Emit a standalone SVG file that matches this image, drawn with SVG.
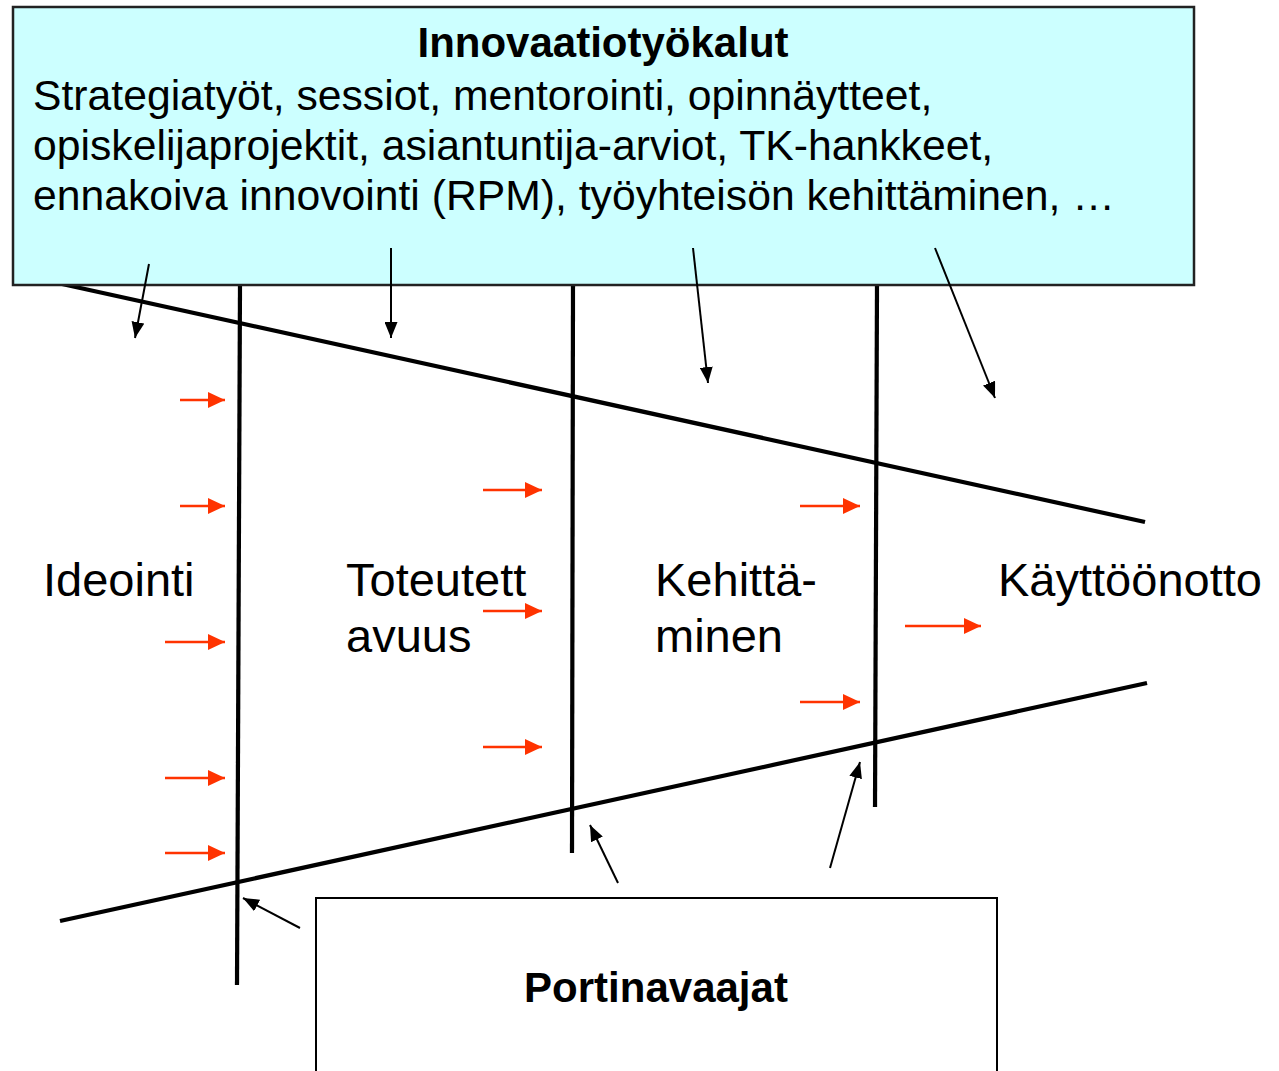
<svg xmlns="http://www.w3.org/2000/svg" width="1279" height="1071" viewBox="0 0 1279 1071">
<style>
.t{font-family:"Liberation Sans",Arial,sans-serif;fill:#000}
.b{font-weight:bold}
.frame{stroke:#000;stroke-width:4.2;fill:none;stroke-linecap:butt}
.blk{stroke:#000;stroke-width:2;fill:none}
.red{stroke:#FF3300;stroke-width:2.5;fill:none}
</style>
<defs>
<marker id="ah" markerUnits="userSpaceOnUse" markerWidth="16" markerHeight="13" refX="16" refY="6.5" orient="auto">
<path d="M0,0 L16,6.5 L0,13 z" fill="#000"/>
</marker>
<marker id="rh" markerUnits="userSpaceOnUse" markerWidth="17" markerHeight="16" refX="17" refY="8" orient="auto">
<path d="M0,0 L17,8 L0,16 z" fill="#FF3300"/>
</marker>
</defs>
<rect width="1279" height="1071" fill="#fff"/>
<g id="connectors">
<line class="frame" x1="62" y1="284" x2="1145" y2="522"/>
<line class="frame" x1="60" y1="921" x2="1147" y2="683"/>
<line class="frame" x1="240" y1="285" x2="237" y2="985"/>
<line class="frame" x1="573" y1="285" x2="572" y2="853"/>
<line class="frame" x1="877" y1="285" x2="875" y2="807"/>
<line class="red" x1="180" y1="400" x2="225" y2="400" marker-end="url(#rh)"/>
<line class="red" x1="180" y1="506" x2="225" y2="506" marker-end="url(#rh)"/>
<line class="red" x1="165" y1="642" x2="225" y2="642" marker-end="url(#rh)"/>
<line class="red" x1="165" y1="778" x2="225" y2="778" marker-end="url(#rh)"/>
<line class="red" x1="165" y1="853" x2="225" y2="853" marker-end="url(#rh)"/>
<line class="red" x1="483" y1="490" x2="542" y2="490" marker-end="url(#rh)"/>
<line class="red" x1="483" y1="611" x2="542" y2="611" marker-end="url(#rh)"/>
<line class="red" x1="483" y1="747" x2="542" y2="747" marker-end="url(#rh)"/>
<line class="red" x1="800" y1="506" x2="860" y2="506" marker-end="url(#rh)"/>
<line class="red" x1="800" y1="702" x2="860" y2="702" marker-end="url(#rh)"/>
<line class="red" x1="905" y1="626" x2="981" y2="626" marker-end="url(#rh)"/>
<line class="blk" x1="300" y1="928" x2="243" y2="898" marker-end="url(#ah)"/>
<line class="blk" x1="618" y1="883" x2="590" y2="825" marker-end="url(#ah)"/>
<line class="blk" x1="830" y1="868" x2="860" y2="762" marker-end="url(#ah)"/>
</g>
<g id="innovaatiotyokalut">
<rect x="13" y="7" width="1181" height="278" fill="#CCFFFF" stroke="#222" stroke-width="2.5"/>
<text class="t b" x="603" y="57" font-size="42" text-anchor="middle">Innovaatiotyökalut</text>
<text class="t" x="33" y="110" font-size="42.7">Strategiatyöt, sessiot, mentorointi, opinnäytteet,</text>
<text class="t" x="33" y="160" font-size="42.7">opiskelijaprojektit, asiantuntija-arviot, TK-hankkeet,</text>
<text class="t" x="33" y="210" font-size="42.7">ennakoiva innovointi (RPM), työyhteisön kehittäminen, …</text>
</g>
<g id="tool-arrows">
<line class="blk" x1="149" y1="264" x2="135" y2="338" marker-end="url(#ah)"/>
<line class="blk" x1="391" y1="248" x2="391" y2="338" marker-end="url(#ah)"/>
<line class="blk" x1="693" y1="248" x2="708" y2="383" marker-end="url(#ah)"/>
<line class="blk" x1="935" y1="248" x2="995" y2="398" marker-end="url(#ah)"/>
</g>
<g id="ideointi"><text class="t" x="43" y="596" font-size="47">Ideointi</text></g>
<g id="toteutettavuus"><text class="t" x="346" y="596" font-size="47">Toteutett</text><text class="t" x="346" y="652" font-size="47">avuus</text></g>
<g id="kehittaminen"><text class="t" x="655" y="596" font-size="47">Kehittä-</text><text class="t" x="655" y="652" font-size="47">minen</text></g>
<g id="kayttoonotto"><text class="t" x="998" y="596" font-size="47">Käyttöönotto</text></g>
<g id="portinavaajat">
<rect x="316" y="898" width="681" height="190" fill="#fff" stroke="#000" stroke-width="2"/>
<text class="t b" x="656" y="1002" font-size="42" text-anchor="middle">Portinavaajat</text>
</g>
</svg>
